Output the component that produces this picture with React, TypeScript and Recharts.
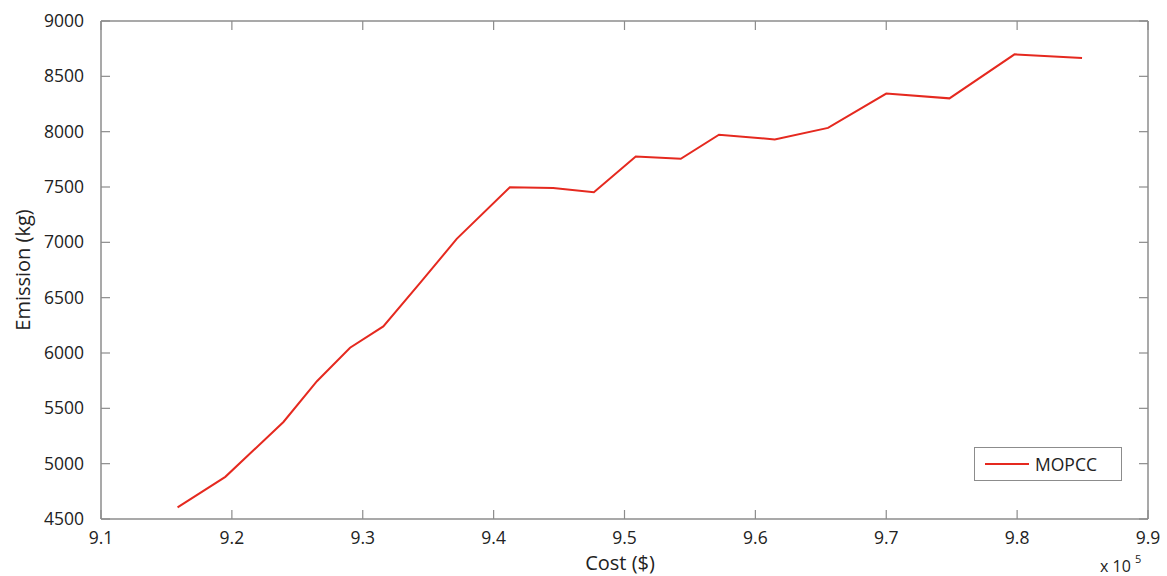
import { Legend, Line, LineChart, XAxis, YAxis } from 'recharts';

const costs = [
  915850, 919500, 923940, 926500, 929030, 931570, 934400, 937180, 941240, 944550,
  947660, 950860, 954300, 957220, 961480, 965550, 970000, 974830, 979800, 984960,
];
const emissions = [
  4605, 4881, 5377, 5745, 6048, 6240, 6635, 7031, 7497, 7491,
  7452, 7776, 7755, 7972, 7930, 8034, 8344, 8301, 8699, 8666,
];
const costTicks = [910000, 920000, 930000, 940000, 950000, 960000, 970000, 980000, 990000];
const emissionTicks = [4500, 5000, 5500, 6000, 6500, 7000, 7500, 8000, 8500, 9000];
const seriesName = 'MOPCC';

const data = costs.map((c, i) => ({ cost: c, emission: emissions[i] }));

const FONT = '"Open Sans", sans-serif';
const AXIS = '#8c8c8c';
const RED = '#e5291f';
const TICK = 9;

const fmtCost = (v: number) => (v / 1e5).toFixed(1);

function BottomTick({ x, y, payload }: any) {
  return (
    <g>
      <path d={`M${x},${y}V${y - TICK}`} stroke={AXIS} strokeWidth={1.2} fill="none" />
      <text x={x} y={y + 25} textAnchor="middle" fontSize={17.5} fontFamily={FONT} fill="#222">
        {fmtCost(payload.value)}
      </text>
    </g>
  );
}

function TopTick({ x, y }: any) {
  return <path d={`M${x},${y}V${y + TICK}`} stroke={AXIS} strokeWidth={1.2} fill="none" />;
}

function LeftTick({ x, y, payload }: any) {
  return (
    <g>
      <path d={`M${x},${y}H${x + TICK}`} stroke={AXIS} strokeWidth={1.2} fill="none" />
      <text x={x - 17} y={y + 6} textAnchor="end" fontSize={17.5} fontFamily={FONT} fill="#222">
        {payload.value}
      </text>
    </g>
  );
}

function RightTick({ x, y }: any) {
  return <path d={`M${x},${y}H${x - TICK}`} stroke={AXIS} strokeWidth={1.2} fill="none" />;
}

function LegendBox() {
  return (
    <div
      style={{
        display: 'flex',
        alignItems: 'center',
        boxSizing: 'border-box',
        width: 148,
        height: 34,
        border: `1.5px solid ${AXIS}`,
        background: '#fff',
        fontFamily: FONT,
        fontSize: 17.5,
        color: '#222',
      }}
    >
      <span style={{ display: 'inline-block', width: 44, height: 2, background: RED, marginLeft: 10, marginRight: 6 }} />
      <span>{seriesName}</span>
    </div>
  );
}

export default function App() {
  return (
    <div style={{ position: 'absolute', left: 0, top: 0, width: 1167, height: 576, background: '#fff', overflow: 'hidden' }}>
      <LineChart
        width={1167}
        height={576}
        data={data}
        margin={{ top: 20, right: 18, bottom: 0, left: 0 }}
      >
        <XAxis
          dataKey="cost"
          type="number"
          domain={[910000, 990000]}
          allowDataOverflow
          ticks={costTicks}
          height={57}
          tickSize={0}
          tickMargin={0}
          axisLine={{ stroke: AXIS, strokeWidth: 1.5 }}
          tickLine={false}
          tick={<BottomTick />}
          interval={0}
        />
        <XAxis
          xAxisId="top"
          orientation="top"
          dataKey="cost"
          type="number"
          domain={[910000, 990000]}
          allowDataOverflow
          ticks={costTicks}
          height={1}
          tickSize={0}
          tickMargin={0}
          axisLine={{ stroke: AXIS, strokeWidth: 1.5 }}
          tickLine={false}
          tick={<TopTick />}
          interval={0}
        />
        <YAxis
          type="number"
          domain={[4500, 9000]}
          allowDataOverflow
          ticks={emissionTicks}
          width={101}
          tickSize={0}
          tickMargin={0}
          axisLine={{ stroke: AXIS, strokeWidth: 1.5 }}
          tickLine={false}
          tick={<LeftTick />}
          interval={0}
        />
        <YAxis
          yAxisId="right"
          orientation="right"
          type="number"
          domain={[4500, 9000]}
          allowDataOverflow
          ticks={emissionTicks}
          width={1}
          tickSize={0}
          tickMargin={0}
          axisLine={{ stroke: AXIS, strokeWidth: 1.5 }}
          tickLine={false}
          tick={<RightTick />}
          interval={0}
        />
        <Legend
          layout="horizontal"
          verticalAlign="middle"
          content={<LegendBox />}
          wrapperStyle={{ left: 974, top: 447, width: 148, height: 34 }}
        />
        <Line
          xAxisId="top"
          yAxisId="right"
          dataKey="emission"
          stroke="none"
          legendType="none"
          dot={false}
          activeDot={false}
          isAnimationActive={false}
        />
        <Line
          name={seriesName}
          dataKey="emission"
          stroke={RED}
          strokeWidth={2}
          dot={false}
          activeDot={false}
          isAnimationActive={false}
        />
      </LineChart>
      <div
        style={{
          position: 'absolute',
          left: 22,
          top: 270,
          transform: 'translate(-50%, -50%) rotate(-90deg)',
          whiteSpace: 'nowrap',
          fontFamily: FONT,
          fontSize: 20,
          color: '#222',
        }}
      >
        Emission (kg)
      </div>
      <div
        style={{
          position: 'absolute',
          left: 620,
          top: 562,
          transform: 'translate(-50%, -50%)',
          whiteSpace: 'nowrap',
          fontFamily: FONT,
          fontSize: 20,
          color: '#222',
        }}
      >
        Cost ($)
      </div>
      <div
        style={{
          position: 'absolute',
          left: 1100,
          top: 558,
          whiteSpace: 'nowrap',
          fontFamily: FONT,
          fontSize: 16,
          lineHeight: 1,
          color: '#222',
        }}
      >
        x 10
      </div>
      <div
        style={{
          position: 'absolute',
          left: 1135,
          top: 553,
          fontFamily: FONT,
          fontSize: 11,
          lineHeight: 1,
          color: '#222',
        }}
      >
        5
      </div>
    </div>
  );
}
